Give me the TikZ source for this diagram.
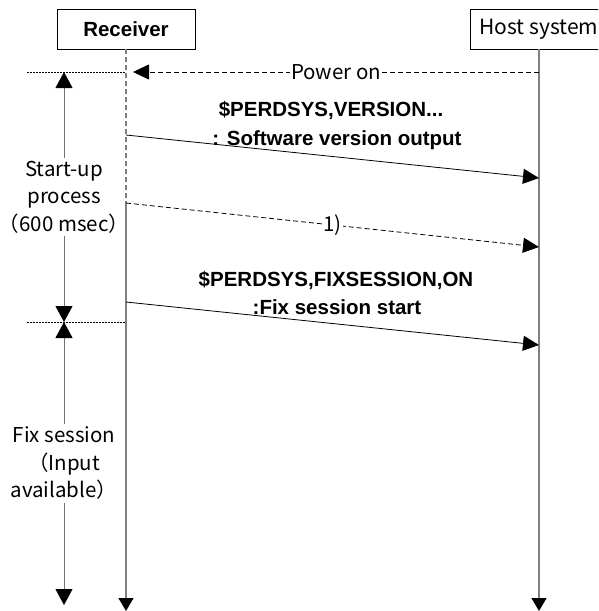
\documentclass[tikz,border=0pt]{standalone}
\usepackage{fontspec}
\setmainfont{Liberation Sans}
\newfontfamily\jp{Noto Sans CJK JP}
\usetikzlibrary{arrows.meta}
\tikzset{
  box/.style={draw=black, line width=0.8pt, minimum width=138pt, minimum height=40pt, inner sep=0pt, fill=white},
  bfont/.style={font=\fontsize{20.5}{24}\selectfont\bfseries},
  rfont/.style={font=\jp\fontsize{20.5}{27.5}\selectfont},
  life/.style={draw=black!50, line width=1.3pt},
  ltip/.style={-{Triangle[length=13pt,width=15pt,color=black]}},
  mtip/.style={-{Triangle[length=16pt,width=15pt,color=black]}},
  msg/.style={draw=black, line width=0.8pt, mtip},
  dsh/.style={dash pattern=on 5pt off 3pt},
  dotl/.style={draw=black, line width=0.7pt, dash pattern=on 1.5pt off 1.5pt},
  span/.style={draw=black!55, line width=1pt, {Triangle[length=16pt,width=17pt,color=black]}-{Triangle[length=16pt,width=17pt,color=black]}},
  lbl/.style={bfont, inner sep=0pt},
  spantext/.style={rfont, fill=white, align=center, inner sep=3pt}
}
\begin{document}
\begin{tikzpicture}[x=1pt,y=-1pt]
\useasboundingbox (0,0) rectangle (598,611);
\clip (0,0) rectangle (598,611);

% coordinates
\coordinate (rxEnd) at (126,611);
\coordinate (hsEnd) at (539,611);
\coordinate (r1) at (126,135); \coordinate (h1) at (539,178);
\coordinate (r2) at (126,203); \coordinate (h2) at (539,247);
\coordinate (r3) at (126,302); \coordinate (h3) at (539,345);
\coordinate (rp) at (133,72);  \coordinate (hp) at (539,72);
\coordinate (d1) at (27,72);   \coordinate (r0) at (126,72);
\coordinate (d2) at (27,322);  \coordinate (rq) at (126,322);
\coordinate (lt) at (64,72);   \coordinate (lm) at (64,322);
\coordinate (lb) at (64,605);

% phase spans
\draw[span] (lt) -- node[spantext] {Start-up\\process\\（600 msec）} (lm);
\draw[span] (lm) -- node[spantext] {Fix session\\（Input\\available）} (lb);

% participants
\node[box, bfont] (rx) at (126,29) {Receiver};
\node[box, font=\jp\fontsize{21}{24}\selectfont] (hs) at (539,29) {Host system};

% lifelines
\draw[life, dsh] (rx.south) -- (r2);
\draw[life, ltip] (r2) -- (rxEnd);
\draw[life, ltip] (hs.south) -- (hsEnd);

% dotted phase separators
\draw[dotl] (d1) -- (r0);
\draw[dotl] (d2) -- (rq);

% messages
\draw[msg, dsh] (hp) -- node[rfont, fill=white, inner sep=1pt] {Power on} (rp);
\draw[msg] (r1) -- (h1);
\node[lbl] (m1a) at (331,110) {\$PERDSYS,VERSION...};
\node[lbl] (m1b) at (337,140) {: Software version output};
\draw[msg, dsh] (r2) -- node[rfont, fill=white, inner sep=1pt] {1)} (h2);
\draw[msg] (r3) -- (h3);
\node[lbl] (m3a) at (336,280) {\$PERDSYS,FIXSESSION,ON};
\node[lbl] (m3b) at (337,307) {:Fix session start};
\end{tikzpicture}
\end{document}
